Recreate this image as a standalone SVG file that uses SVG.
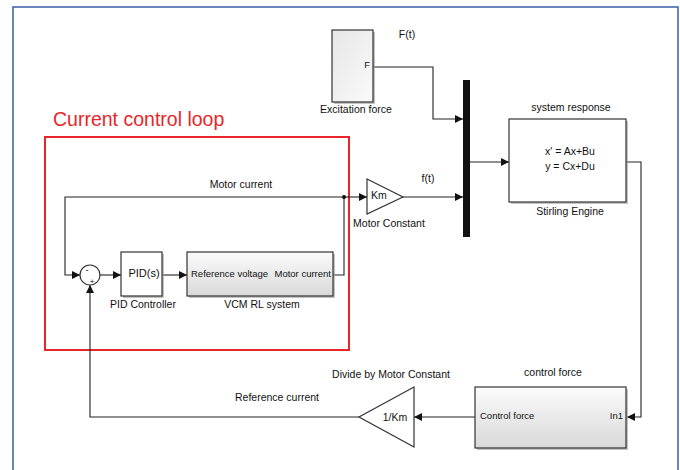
<svg xmlns="http://www.w3.org/2000/svg" width="680" height="470" viewBox="0 0 680 470">
<style>
text{font-family:"Liberation Sans",Arial,sans-serif;font-size:10.5px;fill:#111}
.c{text-anchor:middle}
.e{text-anchor:end}
.ln{fill:none;stroke:#222;stroke-width:1.1}
.blk{stroke:#333;stroke-width:1.2}
.sh{fill:#9a9a9a;opacity:0.6}
</style>
<defs>
<marker id="ah" markerUnits="userSpaceOnUse" markerWidth="9" markerHeight="8" refX="8" refY="4" orient="auto">
<path d="M0,0 L8,4 L0,8 z" fill="#111"/>
</marker>
<linearGradient id="gv" x1="0" y1="0" x2="0" y2="1">
<stop offset="0" stop-color="#fbfbfb"/>
<stop offset="1" stop-color="#d9d9d9"/>
</linearGradient>
<linearGradient id="gh" x1="0" y1="0" x2="1" y2="1">
<stop offset="0" stop-color="#e6e6e6"/>
<stop offset="1" stop-color="#fafafa"/>
</linearGradient>
</defs>
<rect width="680" height="470" fill="#ffffff"/>
<rect x="13" y="7" width="665" height="470" fill="none" stroke="#3a5ca8" stroke-width="1.5"/>

<g id="loop-frame">
<rect x="45" y="137" width="304" height="213" fill="none" stroke="#e8262a" stroke-width="2"/>
<text x="53" y="126" style="font-size:19.5px;fill:#e8262a">Current control loop</text>
</g>

<g id="connectors">
<path class="ln" d="M373,67 H433 V119 H463" marker-end="url(#ah)"/>
<path class="ln" d="M403,197 H463" marker-end="url(#ah)"/>
<path class="ln" d="M344,197 H367" marker-end="url(#ah)"/>
<path class="ln" d="M344,197 H65 V275 H80" marker-end="url(#ah)"/>
<path class="ln" d="M333,275 H344 V197"/>
<path class="ln" d="M100,275 H121" marker-end="url(#ah)"/>
<path class="ln" d="M162,275 H187" marker-end="url(#ah)"/>
<path class="ln" d="M470,162 H509" marker-end="url(#ah)"/>
<path class="ln" d="M626,162 H641 V417 H627" marker-end="url(#ah)"/>
<path class="ln" d="M475,417 H414" marker-end="url(#ah)"/>
<path class="ln" d="M359,417 H90 V285" marker-end="url(#ah)"/>
<circle cx="344" cy="197" r="2" fill="#111"/>
<text x="241" y="188" class="c">Motor current</text>
<text x="428" y="182" class="c">f(t)</text>
<text x="407" y="38" class="c">F(t)</text>
<text x="277" y="401" class="c">Reference current</text>
</g>

<g id="excitation">
<rect x="334" y="32" width="41" height="72" class="sh"/>
<rect x="332" y="30" width="41" height="72" fill="url(#gh)" class="blk"/>
<text x="370" y="68" class="e" style="font-size:9.5px">F</text>
<text x="356" y="113" class="c">Excitation force</text>
</g>

<g id="mux">
<rect x="463" y="80" width="7" height="157" fill="#111"/>
</g>

<g id="stirling">
<rect x="511" y="121" width="117" height="83" class="sh"/>
<rect x="509" y="119" width="117" height="83" fill="#ffffff" class="blk"/>
<text x="570" y="155" class="c">x' = Ax+Bu</text>
<text x="570" y="170" class="c">y = Cx+Du</text>
<text x="571" y="111" class="c">system response</text>
<text x="570" y="215" class="c">Stirling Engine</text>
</g>

<g id="motor-constant">
<path d="M367,179 L403,197 L367,214 z" fill="#ffffff" class="blk"/>
<text x="371" y="199">Km</text>
<text x="389" y="227" class="c">Motor Constant</text>
</g>

<g id="sum">
<circle cx="90" cy="275" r="10" fill="#ffffff" class="blk"/>
<text x="87" y="273" class="c" style="font-size:9px">-</text>
<text x="92" y="284" class="c" style="font-size:8px">+</text>
</g>

<g id="pid">
<rect x="123" y="254" width="41" height="44" class="sh"/>
<rect x="121" y="252" width="41" height="44" fill="#ffffff" class="blk"/>
<text x="144" y="277" class="c" style="font-size:11px">PID(s)</text>
<text x="143" y="308" class="c">PID Controller</text>
</g>

<g id="vcm">
<rect x="189" y="254" width="146" height="44" class="sh"/>
<rect x="187" y="252" width="146" height="44" fill="url(#gv)" class="blk"/>
<text x="191" y="277" style="font-size:9.5px">Reference voltage</text>
<text x="331" y="277" class="e" style="font-size:9.5px">Motor current</text>
<text x="262" y="308" class="c">VCM RL system</text>
</g>

<g id="control-force">
<rect x="477" y="389" width="151" height="61" class="sh"/>
<rect x="475" y="387" width="151" height="61" fill="url(#gv)" class="blk"/>
<text x="480" y="419" style="font-size:9.5px">Control force</text>
<text x="623" y="419" class="e" style="font-size:9.5px">In1</text>
<text x="553" y="376" class="c">control force</text>
</g>

<g id="divide">
<path d="M414,387 L359,417 L414,447 z" fill="#ffffff" class="blk"/>
<text x="395" y="421" class="c">1/Km</text>
<text x="391" y="378" class="c">Divide by Motor Constant</text>
</g>
</svg>
